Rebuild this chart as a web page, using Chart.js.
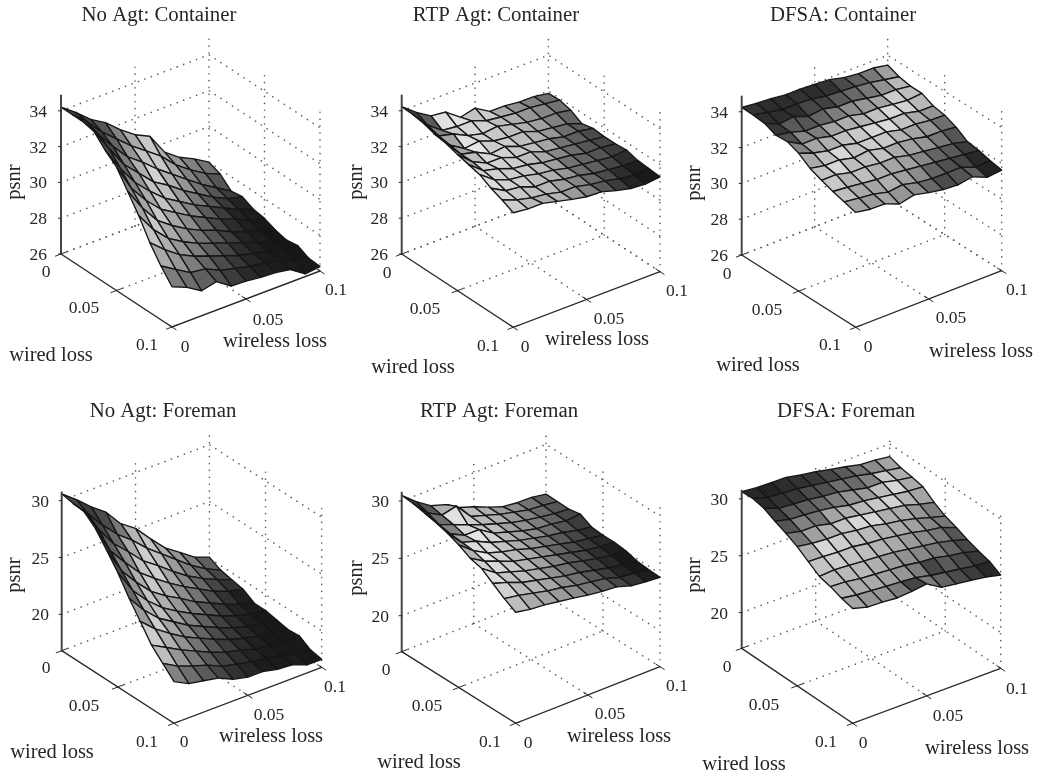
<!DOCTYPE html>
<html><head><meta charset="utf-8">
<script src="https://cdn.jsdelivr.net/npm/chart.js@4"></script>
<style>
html,body{margin:0;padding:0;background:#fff;width:1037px;height:775px;overflow:hidden}
.p{position:absolute;filter:blur(0.45px)}
</style></head><body>
<script>
// ---------- values ----------
const wiredLossTicks=[0,0.05,0.1];
const wirelessLossTicks=[0,0.05,0.1];
const psnrTicksContainer=[26,28,30,32,34];
const psnrTicksForeman=[20,25,30];

const noAgtContainer=[
[34.2,33.6,32.9,32.4,31.7,31.1,30.7,29.5,28.9,28.5,28.0],
[34.2,33.5,32.6,31.9,31.2,30.6,30.0,29.2,28.6,28.1,27.75],
[34.2,33.2,32.2,31.3,30.7,30.0,29.4,28.8,28.2,27.7,27.2],
[34.05,32.8,31.6,30.8,30.0,29.5,28.9,28.4,27.9,27.5,27.3],
[33.4,32.1,31.0,30.2,29.5,29.0,28.5,28.1,27.7,27.3,27.0],
[32.9,31.4,30.4,29.6,29.1,28.6,28.2,27.8,27.5,27.1,26.9],
[31.95,30.7,29.7,29.1,28.6,28.2,27.9,27.5,27.2,26.9,26.65],
[31.0,29.9,29.1,28.6,28.2,27.9,27.6,27.3,27.0,26.7,26.5],
[29.9,29.2,28.6,28.2,27.9,27.6,27.3,27.1,26.9,26.7,26.6],
[29.0,28.5,28.0,27.9,27.5,27.3,27.1,27.0,26.8,26.5,26.3],
[28.25,27.9,27.4,27.6,27.04,27.0,26.9,26.85,26.7,26.15,26.25]];
const rtpContainer=[
[34.23,33.6,33.1,33.0,32.4,32.6,32.1,32.1,32.0,32.0,31.87],
[34.2,33.3,32.7,32.6,32.6,32.3,32.2,32.1,32.1,32.0,31.9],
[34.1,33.1,32.9,32.5,32.3,32.4,32.2,32.0,31.9,31.9,31.75],
[33.9,33.0,32.5,32.6,32.3,32.2,32.2,31.9,31.8,31.7,31.4],
[33.8,32.9,32.7,32.3,32.4,32.1,32.0,31.9,31.7,31.7,31.55],
[33.6,32.9,32.5,32.5,32.2,32.2,31.9,31.8,31.7,31.6,31.5],
[33.45,32.8,32.6,32.3,32.2,32.0,31.9,31.8,31.6,31.6,31.5],
[33.3,32.7,32.4,32.3,32.1,32.0,31.8,31.7,31.6,31.5,31.57],
[32.95,32.5,32.4,32.1,32.1,31.9,31.8,31.6,31.5,31.4,31.4],
[32.7,32.4,32.2,32.1,31.9,31.9,31.7,31.6,31.4,31.3,31.36],
[32.4,32.3,32.3,32.1,31.9,31.74,31.7,31.46,31.27,31.2,31.3]];
const dfsaContainer=[
[34.25,34.16,34.1,34.0,34.0,33.95,33.9,33.7,33.6,33.6,33.45],
[34.23,34.05,33.9,33.9,33.85,33.7,33.65,33.6,33.5,33.35,33.2],
[34.16,33.8,33.9,33.6,33.7,33.5,33.5,33.35,33.2,33.2,33.08],
[33.9,33.75,33.5,33.5,33.4,33.4,33.2,33.2,33.1,33.0,33.08],
[33.95,33.5,33.5,33.3,33.3,33.2,33.1,33.0,33.0,32.8,32.78],
[33.7,33.4,33.2,33.2,33.0,33.0,33.0,32.8,32.8,32.7,32.67],
[33.26,33.1,33.1,32.9,33.0,32.8,32.8,32.7,32.5,32.5,32.4],
[33.0,33.0,32.8,32.8,32.7,32.7,32.5,32.4,32.3,32.2,32.0],
[32.78,32.7,32.6,32.5,32.5,32.4,32.3,32.2,32.1,32.0,31.9],
[32.6,32.5,32.4,32.2,32.3,32.1,32.0,32.0,32.0,31.7,31.74],
[32.42,32.28,32.26,31.94,32.13,31.94,31.8,31.74,31.88,31.53,31.62]];
const noAgtForeman=[
[30.6,29.6,28.47,27.5,26.0,25.1,23.7,22.4,21.5,20.6,20.1],
[30.4,29.0,27.5,26.2,25.2,24.0,23.0,22.0,21.0,20.2,19.6],
[30.3,28.2,26.5,25.3,24.0,23.1,22.1,21.2,20.5,19.9,19.4],
[29.47,27.0,25.5,24.1,23.1,22.2,21.4,20.7,20.0,19.5,19.2],
[28.2,25.9,24.4,23.1,22.2,21.5,20.7,20.1,19.5,19.0,18.6],
[26.86,24.8,23.4,22.3,21.5,20.8,20.2,19.6,19.1,18.8,18.6],
[25.24,23.7,22.5,21.7,20.9,20.3,19.7,19.2,18.8,18.6,18.4],
[23.84,22.7,21.8,21.0,20.4,19.8,19.3,18.9,18.6,18.4,18.2],
[22.4,21.7,21.0,20.4,19.8,19.3,19.0,18.6,18.4,18.2,18.3],
[21.43,20.7,20.2,19.8,19.2,18.9,18.6,18.4,18.2,17.8,17.7],
[20.47,19.8,19.56,19.3,18.7,18.4,18.4,18.1,18.0,17.5,17.5]];
const rtpForeman=[
[30.5,29.45,28.6,28.2,27.46,27.03,26.5,26.05,25.9,25.87,25.66],
[30.4,29.1,28.4,28.7,27.3,26.9,26.5,26.2,25.9,25.8,25.64],
[30.2,28.7,28.2,27.7,27.2,26.8,26.4,26.1,25.9,25.7,25.6],
[30.0,28.5,27.9,27.9,27.1,26.7,26.3,26.0,25.9,25.7,25.8],
[29.7,28.4,28.0,27.4,27.0,26.6,26.3,26.0,25.8,25.5,25.3],
[29.3,28.3,27.6,27.2,26.9,26.5,26.2,25.9,25.6,25.4,25.2],
[28.76,28.0,27.5,27.0,26.7,26.4,26.1,25.8,25.5,25.3,25.2],
[28.5,27.6,27.2,26.8,26.5,26.2,26.0,25.7,25.4,25.2,25.1],
[27.8,27.4,26.9,26.6,26.3,26.0,25.8,25.5,25.2,25.0,24.8],
[27.1,26.9,26.6,26.3,26.1,25.8,25.6,25.4,25.0,24.9,24.7],
[26.54,26.3,26.2,26.0,25.8,25.56,25.4,25.3,24.9,24.76,24.66]];
const dfsaForeman=[
[30.64,30.5,30.47,30.44,30.17,29.97,29.7,29.44,29.15,29.06,28.88],
[30.7,30.3,30.2,30.1,29.9,29.7,29.5,29.3,29.0,28.8,28.56],
[30.5,30.0,29.9,29.8,29.6,29.5,29.2,28.9,28.9,28.6,28.4],
[30.0,29.7,29.6,29.5,29.3,29.0,28.9,28.7,28.5,28.3,28.2],
[29.6,29.3,29.3,29.0,29.0,28.8,28.6,28.4,28.2,27.8,27.5],
[29.1,28.9,28.8,28.8,28.6,28.5,28.2,28.0,27.7,27.3,26.95],
[28.44,28.4,28.3,28.3,28.1,28.0,27.8,27.6,27.3,27.1,26.6],
[27.8,27.9,27.8,27.7,27.6,27.5,27.3,27.1,26.9,26.6,26.2],
[27.56,27.5,27.3,27.2,27.1,27.0,26.8,26.7,26.4,26.2,25.85],
[27.2,27.0,26.9,26.8,26.7,26.6,26.3,26.1,25.9,25.7,25.6],
[26.96,26.6,26.55,26.43,26.53,26.7,25.92,25.73,25.57,25.37,25.06]];

// cell intensity of the lit surface, 0 = black, 255 = white
const litNoAgtContainer=[
[60,70,85,130,170,200,175,150,130,115],
[55,65,100,150,195,200,165,130,110,85],
[55,75,125,175,210,175,150,115,85,60],
[70,100,150,195,190,155,120,85,55,35],
[95,130,170,195,160,130,90,60,35,28],
[130,165,200,165,140,100,70,45,30,25],
[165,200,170,145,115,85,60,35,28,22],
[195,175,150,125,95,70,45,32,25,22],
[170,150,125,100,75,55,38,28,25,22],
[125,110,95,80,60,42,32,28,28,25]];
const litRtpContainer=[
[60,90,225,225,195,205,170,145,130,110],
[55,130,205,215,210,190,175,150,135,115],
[70,165,225,210,200,190,175,160,130,100],
[85,165,230,205,205,190,175,150,110,90],
[125,190,215,210,200,190,165,115,95,75],
[165,210,210,205,190,170,135,110,85,70],
[210,210,205,200,185,160,115,100,85,60],
[220,210,205,190,175,150,110,95,70,45],
[215,200,190,185,160,135,105,75,45,30],
[205,185,175,180,155,130,90,60,35,25]];
const litDfsaContainer=[
[50,45,45,50,45,50,75,95,120,160],
[45,45,45,70,65,90,105,120,145,185],
[55,90,85,100,125,140,150,165,205,190],
[80,135,125,165,175,180,195,215,210,185],
[130,165,175,195,200,215,220,195,170,150],
[170,195,215,195,205,200,180,165,150,110],
[195,215,190,190,195,170,160,150,120,85],
[200,180,190,175,165,160,135,100,90,60],
[190,170,165,175,160,140,100,80,70,40],
[165,155,165,150,140,105,75,85,95,35]];
const litNoAgtForeman=[
[70,60,75,120,180,195,170,150,125,95],
[60,70,105,170,205,190,155,125,100,70],
[50,95,145,195,205,165,135,105,70,50],
[55,125,175,200,175,140,115,80,50,30],
[75,150,195,175,150,120,85,55,35,28],
[105,180,190,160,130,95,65,45,30,25],
[155,205,165,135,100,75,55,38,28,25],
[205,175,145,115,85,60,42,32,25,25],
[190,150,120,90,65,45,35,28,25,25],
[130,110,90,70,50,38,28,28,28,25]];
const litRtpForeman=[
[60,85,175,195,190,175,155,140,115,95],
[50,110,225,205,185,175,150,130,105,85],
[55,130,215,200,190,160,145,125,100,70],
[70,165,230,210,180,160,140,110,85,60],
[135,220,220,195,175,150,115,90,70,45],
[180,230,205,185,170,140,100,75,55,40],
[210,215,200,180,160,130,90,70,45,30],
[220,195,190,175,145,115,85,60,40,25],
[210,185,180,165,140,115,85,60,35,25],
[190,170,165,155,140,120,95,70,50,30]];
const litDfsaForeman=[
[40,35,45,50,55,70,90,115,140,165],
[40,50,55,75,80,110,105,130,200,175],
[60,90,95,105,125,145,155,190,215,170],
[85,130,115,165,175,185,200,210,180,165],
[120,160,175,195,215,215,175,170,150,125],
[175,215,205,195,185,175,170,160,135,120],
[195,205,195,190,180,170,155,140,120,85],
[190,185,185,175,155,145,135,120,100,70],
[180,170,170,160,150,125,70,90,75,55],
[165,150,150,125,70,125,100,75,60,40]];

// ---------- panel layout ----------
const W=352,H=387;
const TF='"Liberation Serif","Times New Roman",serif', INK='#262626';
const panels=[
{title:'No Agt: Container',z:noAgtContainer,lit:litNoAgtContainer,ticks:psnrTicksContainer,ox:0,oy:0,L:[61,254],F:[172,327],R:[320,271],zmin:26,zmax:34.9,k:17.9,
 t:[159,16],psnr:[15,182],zr:47,w0:[46,272],w5:[84,308],w1:[147,345],wl:[51,356],r0:[185,347],r5:[268,320],r1:[336,290],rl:[275,342]},
{title:'RTP Agt: Container',z:rtpContainer,lit:litRtpContainer,ticks:psnrTicksContainer,ox:345,oy:0,L:[401.7,254],F:[513.3,327.3],R:[660,271.7],zmin:26,zmax:34.9,k:17.9,
 t:[496,16],psnr:[357,182],zr:388,w0:[387,273],w5:[425,309],w1:[488,346],wl:[413,368],r0:[525,347],r5:[609,319],r1:[677,291],rl:[597,340]},
{title:'DFSA: Container',z:dfsaContainer,lit:litDfsaContainer,ticks:psnrTicksContainer,ox:685,oy:0,L:[741.7,255],F:[855.7,327.3],R:[1001.7,270.7],zmin:26,zmax:34.9,k:17.9,
 t:[843,16],psnr:[695,183],zr:728,w0:[727,274],w5:[767,310],w1:[830,345],wl:[758,366],r0:[868,347],r5:[951,318],r1:[1017,290],rl:[981,352]},
{title:'No Agt: Foreman',z:noAgtForeman,lit:litNoAgtForeman,ticks:psnrTicksForeman,ox:0,oy:388,L:[61.7,650.7],F:[174,723.3],R:[321.7,667.3],zmin:16.8,zmax:30.8,k:11.37,
 t:[163,412],psnr:[15,575],zr:49,w0:[46,668],w5:[84,706],w1:[147,742],wl:[52,753],r0:[184,742],r5:[269,715],r1:[335,687],rl:[271,737]},
{title:'RTP Agt: Foreman',z:rtpForeman,lit:litRtpForeman,ticks:psnrTicksForeman,ox:345,oy:388,L:[401.7,651.7],F:[515.7,723.3],R:[660,666.7],zmin:16.86,zmax:30.8,k:11.47,
 t:[499,412],psnr:[357,578],zr:389,w0:[386,670],w5:[427,706],w1:[490,742],wl:[419,763],r0:[528,743],r5:[610,714],r1:[677,686],rl:[619,737]},
{title:'DFSA: Foreman',z:dfsaForeman,lit:litDfsaForeman,ticks:psnrTicksForeman,ox:685,oy:388,L:[741.7,648.3],F:[852.7,723.3],R:[1000.7,668.3],zmin:16.86,zmax:30.8,k:11.37,
 t:[846,412],psnr:[695,575],zr:728,w0:[727,667],w5:[764,705],w1:[826,742],wl:[744,765],r0:[863,743],r5:[948,716],r1:[1017,689],rl:[977,749]}
];

function makeProjector(p){
  return (wired,wireless,psnr)=>{
    const u=wired/0.1,v=wireless/0.1;
    return {
      x:p.L[0]+u*(p.F[0]-p.L[0])+v*(p.R[0]-p.F[0]),
      y:p.L[1]+u*(p.F[1]-p.L[1])+v*(p.R[1]-p.F[1])-p.k*(psnr-p.zmin)
    };
  };
}
const dotted=pts=>({data:pts,showLine:true,fill:false,pointRadius:0,borderColor:'#5c5c5c',borderWidth:1.6,borderCapStyle:'round',borderDash:[0.1,6.8],tension:0,clip:false});
const solid=(pts,w,c='#2a2a2a')=>({data:pts,showLine:true,fill:false,pointRadius:0,borderColor:c,borderWidth:w,tension:0,clip:false});

function buildDatasets(p){
  const P=makeProjector(p), list=[];
  const mid=wiredLossTicks[1], far=wiredLossTicks[2], mw=wirelessLossTicks[1], fw=wirelessLossTicks[2];
  [p.zmin,...p.ticks].forEach(t=>list.push(dotted([P(0,0,t),P(0,fw,t),P(far,fw,t)])));
  [[0,mw],[0,fw],[mid,fw],[far,fw]].forEach(([a,b])=>list.push(dotted([P(a,b,p.zmin),P(a,b,p.zmax)])));
  list.push(dotted([P(mid,0,p.zmin),P(mid,fw,p.zmin)]));
  list.push(dotted([P(0,mw,p.zmin),P(far,mw,p.zmin)]));
  const cells=[];
  p.lit.forEach((row,i)=>row.forEach((g,j)=>cells.push({i,j,g})));
  cells.sort((a,b)=>(a.i-a.j)-(b.i-b.j));
  const step=far/(p.z.length-1), stepW=fw/(p.z[0].length-1);
  cells.forEach(({i,j,g})=>{
    const c=[[i,j],[i+1,j],[i+1,j+1],[i,j+1],[i,j]].map(([a,b])=>P(a*step,b*stepW,p.z[a][b]));
    list.push({data:c,showLine:true,fill:'shape',backgroundColor:`rgb(${g},${g},${g})`,borderColor:'#161616',borderWidth:1.35,borderJoinStyle:'round',pointRadius:0,tension:0,clip:false});
  });
  list.push(solid([P(0,0,p.zmin),P(0,0,p.zmax)],2,'#444'));
  list.push(solid([P(0,0,p.zmin),P(far,0,p.zmin),P(far,fw,p.zmin)],1.4));
  p.ticks.forEach(t=>{const a=P(0,0,t);list.push(solid([a,{x:a.x-3,y:a.y}],1));});
  wiredLossTicks.forEach(w=>list.push(solid([P(w,0.004,p.zmin),P(w,-0.004,p.zmin)],1)));
  wirelessLossTicks.forEach(w=>list.push(solid([P(0.096,w,p.zmin),P(0.104,w,p.zmin)],1)));
  return list.reverse(); // Chart.js paints the last dataset first
}

const textPlugin={
  id:'panelText',
  afterDraw(chart,_a,opts){
    const p=opts.panel,ctx=chart.ctx,sx=chart.scales.x,sy=chart.scales.y;
    const put=(s,pos,size,align='center')=>{
      ctx.font=`${size}px ${TF}`;ctx.fillStyle=INK;ctx.textAlign=align;ctx.textBaseline='middle';
      ctx.fillText(s,sx.getPixelForValue(pos[0]),sy.getPixelForValue(pos[1]));
    };
    ctx.save();
    put(p.title,p.t,20.8);
    const P=makeProjector(p);
    p.ticks.forEach(t=>put(String(t),[p.zr,P(0,0,t).y+1.5],17.5,'right'));
    put(String(wiredLossTicks[0]),p.w0,17.5);put(String(wiredLossTicks[1]),p.w5,17.5);put(String(wiredLossTicks[2]),p.w1,17.5);
    put(String(wirelessLossTicks[0]),p.r0,17.5);put(String(wirelessLossTicks[1]),p.r5,17.5);put(String(wirelessLossTicks[2]),p.r1,17.5);
    put('wired loss',p.wl,20.5);put('wireless loss',p.rl,20.5);
    ctx.translate(sx.getPixelForValue(p.psnr[0]),sy.getPixelForValue(p.psnr[1]));
    ctx.rotate(-Math.PI/2);
    ctx.font=`20.5px ${TF}`;ctx.textAlign='center';ctx.textBaseline='middle';ctx.fillStyle=INK;
    ctx.fillText('psnr',0,0);
    ctx.restore();
  }
};

panels.forEach(p=>{
  const cv=document.createElement('canvas');
  cv.className='p';cv.width=W;cv.height=H;
  cv.style.left=p.ox+'px';cv.style.top=p.oy+'px';cv.style.width=W+'px';cv.style.height=H+'px';
  document.body.appendChild(cv);
  new Chart(cv,{
    type:'scatter',
    data:{datasets:buildDatasets(p)},
    plugins:[textPlugin],
    options:{
      responsive:false,animation:false,events:[],
      layout:{padding:0},
      plugins:{legend:{display:false},tooltip:{enabled:false},title:{display:false},panelText:{panel:p}},
      scales:{
        x:{type:'linear',display:false,min:p.ox,max:p.ox+W},
        y:{type:'linear',display:false,min:p.oy,max:p.oy+H,reverse:true}
      }
    }
  });
});
</script></body></html>
